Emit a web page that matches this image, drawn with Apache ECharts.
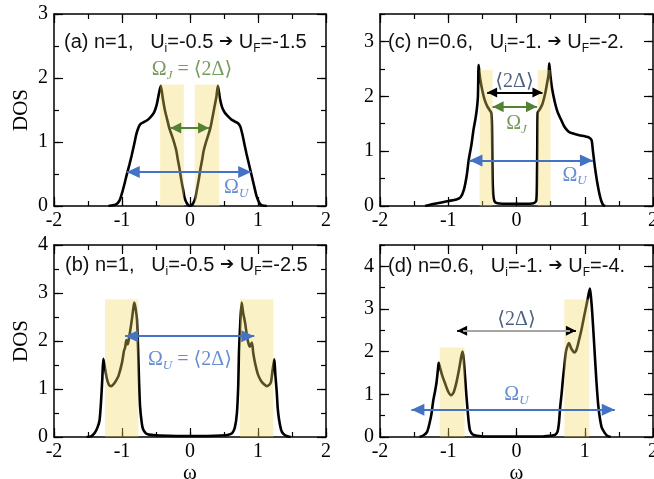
<!DOCTYPE html>
<html><head><meta charset="utf-8">
<script src="https://cdn.jsdelivr.net/npm/echarts@6/dist/echarts.min.js"></script>
<style>html,body{margin:0;padding:0;background:#fff}#c{width:654px;height:479px}</style>
</head><body><div id="c"></div>
<script>
// ---------------- DATA ----------------
const xMin = -2, xMax = 2;
const yMaxA = 3, yMaxB = 4, yMaxC = 3.5, yMaxD = 4.5;

const curveA = [[-1.20,0],[-1.13,0.01],[-1.07,0.04],[-1.03,0.1],[-1.0,0.2],[-0.96,0.36],[-0.93,0.49],[-0.89,0.65],[-0.86,0.78],[-0.82,0.97],[-0.79,1.12],[-0.76,1.22],[-0.73,1.28],[-0.68,1.31],[-0.63,1.34],[-0.58,1.39],[-0.53,1.46],[-0.49,1.58],[-0.46,1.74],[-0.43,1.88],[-0.40,1.68],[-0.37,1.5],[-0.34,1.37],[-0.30,1.2],[-0.26,1.08],[-0.23,0.98],[-0.20,0.86],[-0.18,0.73],[-0.15,0.56],[-0.13,0.42],[-0.10,0.25],[-0.08,0.13],[-0.05,0.05],[-0.02,0.01],[0,0],[0.02,0.01],[0.05,0.05],[0.08,0.13],[0.10,0.25],[0.13,0.42],[0.15,0.56],[0.18,0.73],[0.20,0.86],[0.23,0.98],[0.26,1.08],[0.30,1.22],[0.33,1.38],[0.36,1.55],[0.39,1.72],[0.41,1.88],[0.44,1.68],[0.47,1.55],[0.51,1.46],[0.56,1.4],[0.61,1.35],[0.66,1.32],[0.71,1.29],[0.74,1.24],[0.77,1.12],[0.80,0.97],[0.83,0.82],[0.87,0.64],[0.91,0.46],[0.95,0.28],[0.98,0.15],[1.02,0.05],[1.06,0.01],[1.13,0]];

const curveB = [[-1.52,0],[-1.45,0.02],[-1.40,0.09],[-1.36,0.2],[-1.33,0.35],[-1.31,0.7],[-1.29,1.2],[-1.275,1.63],[-1.26,1.52],[-1.24,1.35],[-1.22,1.2],[-1.19,1.08],[-1.16,1.06],[-1.13,1.09],[-1.09,1.17],[-1.05,1.28],[-1.0,1.55],[-0.97,1.8],[-0.955,1.86],[-0.935,2.02],[-0.915,1.93],[-0.89,2.12],[-0.87,2.3],[-0.845,2.55],[-0.82,2.8],[-0.80,2.68],[-0.78,2.45],[-0.765,1.9],[-0.75,1.2],[-0.735,0.65],[-0.71,0.3],[-0.69,0.16],[-0.65,0.08],[-0.6,0.05],[-0.45,0.03],[-0.2,0.02],[0,0.02],[0.2,0.02],[0.45,0.03],[0.55,0.04],[0.62,0.08],[0.66,0.2],[0.69,0.5],[0.71,1.1],[0.72,1.76],[0.74,2.4],[0.76,2.8],[0.78,2.6],[0.81,2.38],[0.84,2.08],[0.86,1.95],[0.88,1.88],[0.91,1.97],[0.93,1.75],[0.955,1.55],[0.98,1.4],[1.0,1.3],[1.04,1.18],[1.08,1.11],[1.13,1.06],[1.16,1.08],[1.19,1.14],[1.215,1.4],[1.24,1.62],[1.255,1.3],[1.275,0.95],[1.29,0.6],[1.31,0.36],[1.34,0.15],[1.37,0.07],[1.42,0.02],[1.48,0]];

const curveC = [[-1.34,0],[-1.2,0.04],[-1.0,0.09],[-0.88,0.12],[-0.82,0.16],[-0.77,0.3],[-0.73,0.55],[-0.7,0.84],[-0.66,1.12],[-0.63,1.39],[-0.6,1.6],[-0.58,1.78],[-0.565,2.0],[-0.555,2.57],[-0.545,2.45],[-0.53,2.3],[-0.5,2.1],[-0.47,1.95],[-0.43,1.82],[-0.39,1.74],[-0.37,1.7],[-0.36,1.5],[-0.355,1.0],[-0.35,0.5],[-0.34,0.2],[-0.32,0.08],[-0.28,0.05],[-0.1,0.04],[0,0.04],[0.1,0.04],[0.25,0.05],[0.29,0.1],[0.3,0.5],[0.305,1.2],[0.31,1.7],[0.34,1.76],[0.38,1.86],[0.42,2.05],[0.45,2.25],[0.47,2.4],[0.48,2.6],[0.495,2.4],[0.52,2.15],[0.56,1.9],[0.6,1.72],[0.65,1.58],[0.7,1.45],[0.76,1.36],[0.83,1.32],[0.92,1.29],[1.0,1.27],[1.06,1.25],[1.1,1.2],[1.12,1.0],[1.15,0.7],[1.18,0.45],[1.21,0.25],[1.24,0.1],[1.27,0.02],[1.3,0]];

const curveD = [[-1.42,0],[-1.36,0.04],[-1.31,0.12],[-1.27,0.35],[-1.245,0.55],[-1.22,0.85],[-1.19,1.1],[-1.17,1.3],[-1.15,1.6],[-1.14,1.74],[-1.12,1.62],[-1.09,1.45],[-1.05,1.27],[-1.0,1.06],[-0.96,0.98],[-0.92,1.05],[-0.88,1.28],[-0.84,1.6],[-0.81,1.88],[-0.79,2.0],[-0.775,1.85],[-0.76,1.55],[-0.74,1.1],[-0.72,0.7],[-0.70,0.35],[-0.68,0.15],[-0.64,0.06],[-0.58,0.03],[-0.4,0.01],[0,0.01],[0.3,0.01],[0.5,0.03],[0.565,0.05],[0.6,0.12],[0.62,0.3],[0.64,0.7],[0.66,1.0],[0.68,1.35],[0.70,1.65],[0.72,1.95],[0.74,2.1],[0.77,2.2],[0.80,2.08],[0.85,1.98],[0.88,2.05],[0.905,2.2],[0.95,2.5],[1.0,2.9],[1.05,3.29],[1.075,3.48],[1.09,3.3],[1.11,2.9],[1.14,2.12],[1.17,1.33],[1.2,0.71],[1.245,0.24],[1.295,0.09],[1.33,0.03],[1.38,0]];

// shaded bands: [from, to, top]
const bandsA = [[-0.44,-0.09,1.9],[0.07,0.43,1.9]];
const bandsB = [[-1.25,-0.76,2.87],[0.735,1.225,2.87]];
const bandsC = [[-0.54,-0.35,2.48],[0.31,0.50,2.48]];
const bandsD = [[-1.124,-0.76,2.1],[0.70,1.066,3.23]];

// arrows: [x1, x2, y]
const arrowOmegaJ_A = [-0.29, 0.28, 1.22];
const arrowOmegaU_A = [-0.93, 0.90, 0.53];
const arrowOmegaU_B = [-0.955, 0.945, 2.1];
const arrowGap_C    = [-0.43, 0.38, 2.07];
const arrowOmegaJ_C = [-0.35, 0.30, 1.81];
const arrowOmegaU_C = [-0.69, 1.12, 0.83];
const arrowGap_D    = [-0.87, 0.87, 2.49];
const arrowOmegaU_D = [-1.54, 1.44, 0.64];

// panel titles
const titleA = '{t|(a) n=1,   U}{s|i}{t|=-0.5 }{ar|➔}{t| U}{s|F}{t|=-1.5}';
const titleB = '{t|(b) n=1,   U}{s|i}{t|=-0.5 }{ar|➔}{t| U}{s|F}{t|=-2.5}';
const titleC = '{t|(c) n=0.6,   U}{s|i}{t|=-1. }{ar|➔}{t| U}{s|F}{t|=-2.}';
const titleD = '{t|(d) n=0.6,   U}{s|i}{t|=-1. }{ar|➔}{t| U}{s|F}{t|=-4.}';

// annotation texts
const txtOmegaJeqGap = '{m|Ω}{s|J}{m| = ⟨2Δ⟩}';
const txtOmegaUeqGap = '{m|Ω}{s|U}{m| = ⟨2Δ⟩}';
const txtOmegaU = '{m|Ω}{s|U}';
const txtOmegaJ = '{m|Ω}{s|J}';
const txtGap = '{m|⟨2Δ⟩}';

// ---------------- STYLE / LAYOUT ----------------
const SERIF = "'Liberation Serif','DejaVu Serif',serif";
const SANS = "'Liberation Sans','DejaVu Sans',sans-serif";
const GREEN = '#548235', BLUE = '#4472C4', NAVY = '#203864', BLACK = '#000', GRAY = '#a6a6a6';
const BAND = 'rgba(245,215,100,0.36)';

const grids = [
  {left:54, top:14, width:272, height:192},   // (a)
  {left:380, top:14, width:273, height:192},  // (c)
  {left:54, top:245, width:272, height:192},  // (b)
  {left:380, top:245, width:273, height:192}  // (d)
];
const yMaxes = [yMaxA, yMaxC, yMaxB, yMaxD];
const curves = [curveA, curveC, curveB, curveD];
const bands = [bandsA, bandsC, bandsB, bandsD];
const titles = [titleA, titleC, titleB, titleD];
const titlePos = [[64,29],[388,29],[65,252],[388,253]];

const arrows = [
  [{a:arrowOmegaJ_A, c:GREEN, s:[11,11]}, {a:arrowOmegaU_A, c:BLUE, s:[12,13]}],
  [{a:arrowGap_C, c:BLACK, s:[10,10]}, {a:arrowOmegaJ_C, c:GREEN, s:[11,11]}, {a:arrowOmegaU_C, c:BLUE, s:[12,13]}],
  [{a:arrowOmegaU_B, c:BLUE, s:[12,13]}],
  [{a:arrowGap_D, c:BLACK, s:[10,10], inner:GRAY}, {a:arrowOmegaU_D, c:BLUE, s:[12,13]}]
];
const labels = [
  [{t:txtOmegaJeqGap, x:0.03, y:2.13, c:GREEN}, {t:txtOmegaU, x:0.68, y:0.28, c:BLUE}],
  [{t:txtGap, x:-0.03, y:2.26, c:NAVY}, {t:txtOmegaJ, x:0.0, y:1.5, c:GREEN}, {t:txtOmegaU, x:0.85, y:0.56, c:BLUE}],
  [{t:txtOmegaUeqGap, x:0.0, y:1.6, c:BLUE}],
  [{t:txtGap, x:0.0, y:2.75, c:NAVY}, {t:txtOmegaU, x:0.0, y:0.98, c:BLUE}]
];

function mathRich(color){
  return {
    m:{fontFamily:SERIF, fontSize:20, fontWeight:'normal', color:color, lineHeight:24},
    s:{fontFamily:SERIF, fontSize:13, fontStyle:'italic', fontWeight:'normal', color:color, lineHeight:13, verticalAlign:'bottom'}
  };
}
const titleRich = {
  t:{fontFamily:SANS, fontSize:20, fontWeight:'normal', color:'#111', lineHeight:26},
  ar:{fontFamily:"'DejaVu Sans',sans-serif", fontSize:17, fontWeight:'normal', color:'#111', lineHeight:26},
  s:{fontFamily:SANS, fontSize:12, fontWeight:'normal', color:'#111', lineHeight:12, verticalAlign:'bottom'}
};

const xAxes = [], yAxes = [];
const tickStyle = {color:'#000', width:1.2};
const lineStyleAx = {color:'#000', width:1.5};
grids.forEach((g, i) => {
  ['bottom','top'].forEach(pos => {
    const lab = pos === 'bottom';
    xAxes.push({gridIndex:i, type:'value', min:xMin, max:xMax, interval:1, position:pos,
      axisLine:{show:true, onZero:false, lineStyle:lineStyleAx},
      axisTick:{show:true, inside:true, length:9, lineStyle:tickStyle},
      axisLabel:{show:lab, fontFamily:SERIF, fontSize:20, color:'#000', margin:5, showMinLabel:true, showMaxLabel:true},
      splitLine:{show:false},
      name:(lab && i >= 2) ? 'ω' : '', nameLocation:'middle', nameGap:21,
      nameTextStyle:{fontFamily:SERIF, fontSize:21, color:'#000'}
    });
    xAxes.push({gridIndex:i, type:'value', min:xMin, max:xMax, interval:0.5, position:pos,
      axisLine:{show:false, onZero:false}, axisTick:{show:true, inside:true, length:5, lineStyle:tickStyle},
      axisLabel:{show:false}, splitLine:{show:false}});
  });
  ['left','right'].forEach(pos => {
    const lab = pos === 'left';
    const ym = yMaxes[i];
    yAxes.push({gridIndex:i, type:'value', min:0, max:ym, interval:1, position:pos,
      axisLine:{show:true, onZero:false, lineStyle:lineStyleAx},
      axisTick:{show:true, inside:true, length:9, lineStyle:tickStyle},
      axisLabel:{show:lab, fontFamily:SERIF, fontSize:20, color:'#000', margin:6, showMinLabel:true, showMaxLabel: Number.isInteger(ym)},
      splitLine:{show:false},
      name:(lab && (i === 0 || i === 2)) ? 'DOS' : '', nameLocation:'middle', nameGap:22,
      nameTextStyle:{fontFamily:SERIF, fontSize:21, color:'#000'}
    });
    yAxes.push({gridIndex:i, type:'value', min:0, max:ym, interval:0.5, position:pos,
      axisLine:{show:false, onZero:false}, axisTick:{show:true, inside:true, length:5, lineStyle:tickStyle},
      axisLabel:{show:false}, splitLine:{show:false}});
  });
});

const series = [];
grids.forEach((g, i) => {
  const mlData = [];
  arrows[i].forEach(ar => {
    const [x1, x2, y] = ar.a;
    mlData.push([{coord:[x1, y], symbolSize:ar.s, lineStyle:{color:ar.c, width:2, type:'solid'}}, {coord:[x2, y], symbolSize:ar.s}]);
    if (ar.inner) {
      const d = (x2 - x1) * 0.05;
      mlData.push([{coord:[x1 + d, y], symbol:'none', lineStyle:{color:ar.inner, width:2, type:'solid'}}, {coord:[x2 - d, y], symbol:'none'}]);
    }
  });
  series.push({
    type:'line', xAxisIndex:4*i, yAxisIndex:4*i, data:curves[i], showSymbol:false, symbol:'none',
    smooth:0.25, lineStyle:{color:'#000', width:2.6}, z:2, silent:true, clip:true,
    markArea:{silent:true, z:3, itemStyle:{color:BAND}, label:{show:false},
      data:bands[i].map(b => [{coord:[b[0], 0]}, {coord:[b[1], b[2]]}])},
    markLine:{silent:true, z:5, symbol:['triangle','triangle'], symbolOffset:[[0,'50%'],[0,'50%']],
      label:{show:false}, lineStyle:{type:'solid', width:2}, emphasis:{disabled:true}, data:mlData}
  });
  series.push({
    type:'scatter', xAxisIndex:4*i, yAxisIndex:4*i, symbolSize:1, z:6, silent:true,
    itemStyle:{color:'rgba(0,0,0,0)'},
    data:labels[i].map(l => ({value:[l.x, l.y], label:{show:true, position:'inside', formatter:l.t, rich:mathRich(l.c)}}))
  });
});

const option = {
  animation:false,
  backgroundColor:'#fff',
  title: titles.map((t, i) => ({text:t, left:titlePos[i][0], top:titlePos[i][1], padding:0,
    textStyle:{fontWeight:'normal', fontFamily:SANS, fontSize:20, color:'#111', rich:titleRich}})),
  grid: grids.map(g => Object.assign({containLabel:false, outerBoundsMode:'none'}, g)),
  xAxis: xAxes,
  yAxis: yAxes,
  series: series
};
const chart = echarts.init(document.getElementById('c'), null, {renderer:'canvas'});
chart.setOption(option);
</script>
</body></html>
